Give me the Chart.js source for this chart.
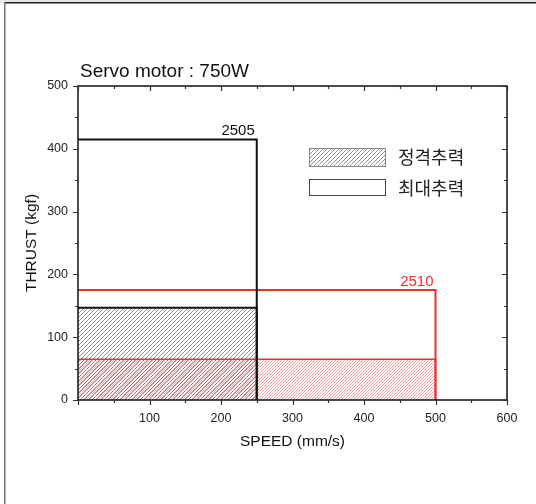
<!DOCTYPE html>
<html>
<head>
<meta charset="utf-8">
<script src="https://cdn.jsdelivr.net/npm/chart.js@4"></script>
<style>
  html, body { margin: 0; padding: 0; background: #fff; }
  #wrap { width: 536px; height: 504px; }
</style>
</head>
<body>
<div id="wrap"><canvas id="chart" width="536" height="504"></canvas></div>
<script>
// data
const models = ["2505", "2510"];
const maxSpeed = [250, 500];        // mm/s
const maxThrust = [415, 175];       // kgf
const ratedThrust = [147, 65];      // kgf
const lineColors = ["#111111", "#e8302e"];
const hatchColors = ["rgba(110,110,110,0.85)", "rgba(238,110,110,0.7)"];
const legendLabels = ["정격추력", "최대추력"];
const xTicks = [100, 200, 300, 400, 500, 600];
const yTicks = [0, 100, 200, 300, 400, 500];

function makeHatch(color, step) {
    const c = document.createElement("canvas");
    c.width = step;
    c.height = step;
    const g = c.getContext("2d");
    g.strokeStyle = color;
    g.lineWidth = 0.9;
    g.beginPath();
    g.moveTo(0, step);
    g.lineTo(step, 0);
    g.moveTo(-1, 1);
    g.lineTo(1, -1);
    g.moveTo(step - 1, step + 1);
    g.lineTo(step + 1, step - 1);
    g.stroke();
    return g.createPattern(c, "repeat");
}

const hatches = [makeHatch(hatchColors[0], 4), makeHatch(hatchColors[1], 3)];

const datasets = [];
models.forEach((m, i) => {
    datasets.push({
        label: m + " max",
        data: [{ x: 0, y: maxThrust[i] }, { x: maxSpeed[i], y: maxThrust[i] }, { x: maxSpeed[i], y: 0 }],
        borderColor: lineColors[i],
        borderWidth: 2,
        fill: false,
        order: i
    });
    datasets.push({
        label: m + " rated",
        data: [{ x: 0, y: ratedThrust[i] }, { x: maxSpeed[i], y: ratedThrust[i] }, { x: maxSpeed[i], y: 0 }],
        borderColor: lineColors[i],
        borderWidth: i === 0 ? 2 : 1.6,
        backgroundColor: hatches[i],
        fill: "origin",
        order: i
    });
});

const decor = {
    id: "decor",
    beforeDraw(chart) {
        const ctx = chart.ctx;
        ctx.save();
        ctx.fillStyle = "#fff";
        ctx.fillRect(0, 0, chart.width, chart.height);
        ctx.fillStyle = "#e6e6e6";
        ctx.fillRect(0, 0, chart.width, 3);
        ctx.fillStyle = "#222";
        ctx.fillRect(4, 2, chart.width - 4, 1.5);
        ctx.fillStyle = "#777";
        ctx.fillRect(4, 2, 1.5, chart.height);
        ctx.restore();
    },
    afterDraw(chart) {
        const ctx = chart.ctx;
        const a = chart.chartArea;
        const xs = chart.scales.x, ys = chart.scales.y;
        ctx.save();
        // frame
        ctx.strokeStyle = "#111";
        ctx.lineWidth = 1.5;
        ctx.strokeRect(a.left, a.top, a.right - a.left, a.bottom - a.top);
        // ticks: major every 100, minor every 50
        ctx.lineWidth = 1.2;
        ctx.strokeStyle = "#333";
        ctx.beginPath();
        for (let v = 0; v <= 600; v += 50) {
            const px = Math.round(xs.getPixelForValue(v)) + 0.5;
            const len = v % 100 === 0 ? 5 : 3;
            ctx.moveTo(px, a.bottom); ctx.lineTo(px, a.bottom + len);
            ctx.moveTo(px, a.top); ctx.lineTo(px, a.top + len);
        }
        for (let v = 0; v <= 500; v += 50) {
            const py = Math.round(ys.getPixelForValue(v)) + 0.5;
            const len = v % 100 === 0 ? 5 : 3;
            ctx.moveTo(a.left, py); ctx.lineTo(a.left - len, py);
            ctx.moveTo(a.right, py); ctx.lineTo(a.right - len, py);
        }
        ctx.stroke();

        // model labels
        ctx.font = "15px 'Liberation Sans', Arial, sans-serif";
        ctx.textAlign = "right";
        ctx.textBaseline = "alphabetic";
        models.forEach((m, i) => {
            ctx.fillStyle = lineColors[i];
            ctx.fillText(m, xs.getPixelForValue(maxSpeed[i]) - 2, ys.getPixelForValue(maxThrust[i]) - 4);
        });

        // title
        ctx.fillStyle = "#111";
        ctx.textAlign = "left";
        ctx.font = "19px 'Liberation Sans', Arial, sans-serif";
        ctx.fillText("Servo motor : 750W", a.left + 2, a.top - 9);

        // axis titles
        ctx.font = "15.5px 'Liberation Sans', Arial, sans-serif";
        ctx.textAlign = "center";
        ctx.fillText("SPEED (mm/s)", (a.left + a.right) / 2, a.bottom + 46);
        ctx.save();
        ctx.translate(36, (a.top + a.bottom) / 2);
        ctx.rotate(-Math.PI / 2);
        ctx.fillText("THRUST (kgf)", 0, 0);
        ctx.restore();

        // legend
        const lx = a.left + 231, ly = a.top + 62;
        ctx.fillStyle = "#fff";
        ctx.fillRect(lx, ly, 76, 18);
        ctx.fillStyle = hatches[0];
        ctx.fillRect(lx, ly, 76, 18);
        ctx.strokeStyle = "#888";
        ctx.lineWidth = 1;
        ctx.strokeRect(lx + 0.5, ly + 0.5, 76, 18);
        ctx.strokeStyle = "#444";
        ctx.strokeRect(lx + 0.5, ly + 31.5, 76, 16);
        ctx.fillStyle = "#222";
        ctx.font = "18px 'Noto Sans CJK KR', sans-serif";
        ctx.textAlign = "left";
        ctx.textBaseline = "middle";
        ctx.fillText(legendLabels[0], lx + 89, ly + 9);
        ctx.fillText(legendLabels[1], lx + 89, ly + 40);
        ctx.restore();
    }
};

new Chart(document.getElementById("chart"), {
    type: "scatter",
    data: { datasets: datasets },
    options: {
        responsive: false,
        animation: false,
        showLine: true,
        elements: { point: { radius: 0 }, line: { tension: 0 } },
        layout: { padding: { top: 86, right: 29, left: 0, bottom: 0 } },
        plugins: { legend: { display: false }, tooltip: { enabled: false } },
        scales: {
            x: {
                type: "linear",
                min: 0,
                max: 600,
                afterBuildTicks: s => { s.ticks = xTicks.map(v => ({ value: v })); },
                afterFit: s => { s.height = 104; },
                grid: { display: false },
                border: { display: false },
                ticks: { color: "#222", padding: 3, font: { family: "'Liberation Sans', Arial", size: 12.5 } }
            },
            y: {
                type: "linear",
                min: 0,
                max: 500,
                afterBuildTicks: s => { s.ticks = yTicks.map(v => ({ value: v })); },
                afterFit: s => { s.width = 78; },
                grid: { display: false },
                border: { display: false },
                ticks: { color: "#222", padding: 2, font: { family: "'Liberation Sans', Arial", size: 12.5 } }
            }
        }
    },
    plugins: [decor]
});
</script>
</body>
</html>
